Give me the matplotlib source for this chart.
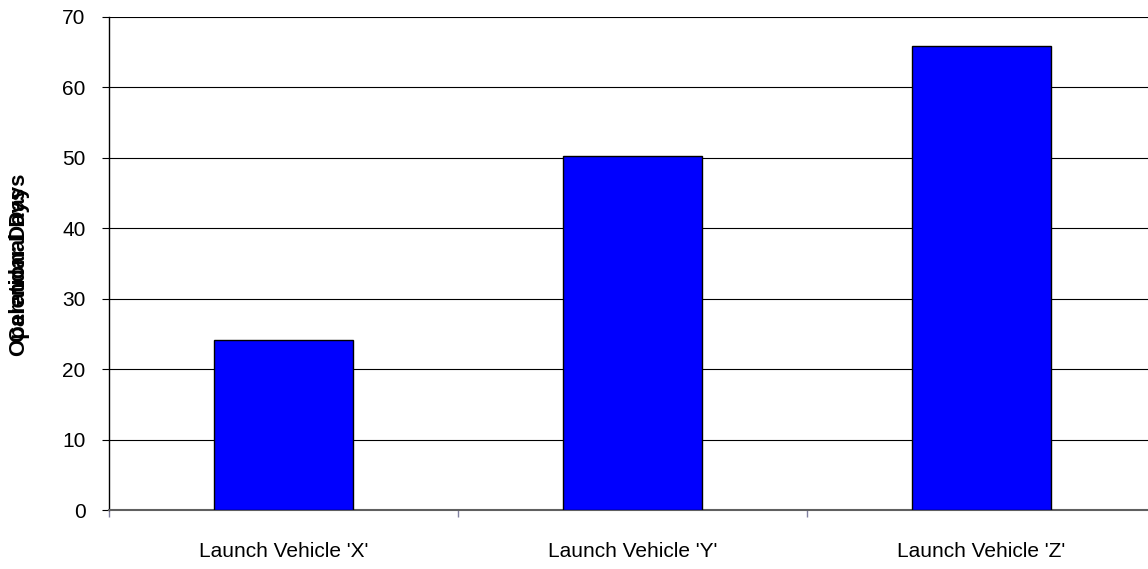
import matplotlib
matplotlib.use("Agg")
import matplotlib.pyplot as plt
import numpy as np

categories = ["Launch Vehicle 'X'", "Launch Vehicle 'Y'", "Launch Vehicle 'Z'"]
values = [24.2, 50.2, 65.9]
ylabels = ["Operational Days", "Calendar Days"]
yticks = [0, 10, 20, 30, 40, 50, 60, 70]

plt.rcParams['font.family'] = ['Liberation Sans', 'DejaVu Sans']

fig = plt.figure(figsize=(11.48, 5.69), dpi=100)
ax = fig.add_axes([109/1148, 1-510/569, 1047/1148, 493/569])

x = np.arange(len(categories))
ax.bar(x, values, width=0.4, color='#0000FF', edgecolor='black', linewidth=1, zorder=3)

ax.set_xlim(-0.5, 2.5)
ax.set_ylim(0, 70)
ax.set_yticks(yticks)
ax.yaxis.grid(True, color='black', linewidth=0.8, zorder=0)
ax.set_axisbelow(True)

ax.set_xticks(x)
ax.set_xticklabels(categories, fontsize=15)
ax.tick_params(axis='x', length=0, pad=23)
ax.set_xticks([-0.5, 0.5, 1.5], minor=True)
ax.tick_params(axis='x', which='minor', length=5, color='#8080A0', width=1)
ax.tick_params(axis='y', labelsize=15, length=5, pad=12, color='black')

for s in ['top', 'right']:
    ax.spines[s].set_visible(False)
ax.spines['left'].set_color('black')
ax.spines['left'].set_linewidth(1)
ax.spines['bottom'].set_color('#606060')
ax.spines['bottom'].set_linewidth(1.5)

for lab in ylabels:
    fig.text(20/1148, 1-264.5/569, lab, rotation=90, fontsize=16, fontweight='bold',
             ha='center', va='center')

fig.savefig("out.png", dpi=100)
